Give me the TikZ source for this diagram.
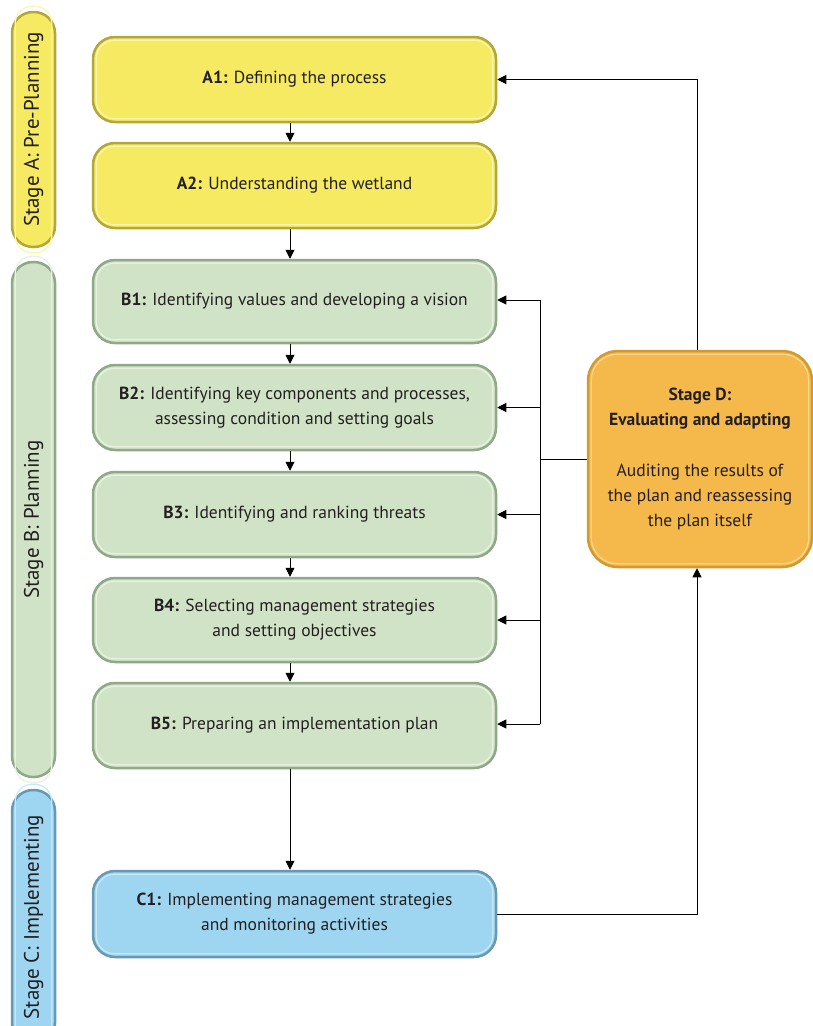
\documentclass[tikz,border=0pt]{standalone}
\usepackage{fontspec}
\setmainfont{PT Sans}
\usetikzlibrary{arrows.meta,calc}
\definecolor{yfill}{HTML}{F5EA62}
\definecolor{ydraw}{HTML}{B3A73C}
\definecolor{yhi}{HTML}{FBF5AE}
\definecolor{gfill}{HTML}{D1E3C7}
\definecolor{gdraw}{HTML}{8FA888}
\definecolor{ghi}{HTML}{E8F1E2}
\definecolor{bfill}{HTML}{9ED5F0}
\definecolor{bdraw}{HTML}{6699B3}
\definecolor{bhi}{HTML}{C9E9F8}
\definecolor{ofill}{HTML}{F5B84A}
\definecolor{odraw}{HTML}{D09A30}
\definecolor{ohi}{HTML}{FAD690}
\definecolor{txt}{HTML}{231F20}
\tikzset{
  box/.style={rounded corners=22pt, line width=2.5pt, minimum width=403pt, minimum height=85pt,
    align=center, font=\fontsize{17.5}{25}\selectfont, text=txt, inner sep=0pt},
  ybox/.style={box, fill=yfill, draw=ydraw},
  gbox/.style={box, fill=gfill, draw=gdraw},
  bbox/.style={box, fill=bfill, draw=bdraw},
  obox/.style={box, fill=ofill, draw=odraw, rounded corners=30pt, minimum width=224pt, minimum height=216pt},
  pill/.style={rounded corners=21pt, line width=2.5pt, inner sep=0pt, rotate=90,
    font=\fontsize{21}{24}\selectfont, text=txt},
  arr/.style={-{Triangle[length=9pt,width=9pt]}, line width=0.9pt, draw=black},
  ln/.style={line width=0.9pt, draw=black},
}
\newcommand\hilite[3][18pt]{\draw[#3, line width=1.3pt, rounded corners=#1] ($(#2.north west)+(4.5,4.5)$) rectangle ($(#2.south east)+(-4.5,-4.5)$);}
\begin{document}
\begin{tikzpicture}[x=1pt,y=-1pt]
\useasboundingbox (0,0) rectangle (813,1026);
% stage pills
\node[pill, fill=yfill, draw=ydraw, minimum width=235pt, minimum height=43pt] (SA) at (33.5,129.5) {Stage A: Pre-Planning};
\node[pill, fill=gfill, draw=gdraw, minimum width=515pt, minimum height=43pt] (SB) at (33.5,519.5) {Stage B: Planning};
\node[pill, fill=bfill, draw=bdraw, minimum width=254pt, minimum height=43pt] (SC) at (33.5,917) {Stage C: Implementing};
\hilite[17pt]{SA}{yhi}
\hilite[17pt]{SB}{ghi}
\hilite[17pt]{SC}{bhi}
% boxes
\node[ybox] (A1) at (294.5,79.5) {\textbf{A1:} Defining the process};
\node[ybox] (A2) at (294.5,185.5) {\textbf{A2:} Understanding the wetland};
\node[gbox, minimum height=83pt] (B1) at (294.5,301.5) {\textbf{B1:} Identifying values and developing a vision};
\node[gbox] (B2) at (294.5,407.5) {\textbf{B2:} Identifying key components and processes,\\assessing condition and setting goals};
\node[gbox] (B3) at (294.5,514.5) {\textbf{B3:} Identifying and ranking threats};
\node[gbox, minimum height=84pt] (B4) at (294.5,620) {\textbf{B4:} Selecting management strategies\\and setting objectives};
\node[gbox] (B5) at (294.5,725.5) {\textbf{B5:} Preparing an implementation plan};
\node[bbox, minimum height=86pt] (C1) at (294.5,914) {\textbf{C1:} Implementing management strategies\\and monitoring activities};
\node[obox] (D) at (700,459) {\textbf{Stage D:}\\\textbf{Evaluating and adapting}\\[26pt]Auditing the results of\\the plan and reassessing\\the plan itself};
\foreach \n in {A1,A2}{\hilite{\n}{yhi}}
\foreach \n in {B1,B2,B3,B4,B5}{\hilite{\n}{ghi}}
\hilite{C1}{bhi}
\hilite[26pt]{D}{ohi}
% vertical flow
\draw[arr] (A1.south -| 290,0) -- (A2.north -| 290,0);
\draw[arr] (A2.south -| 290,0) -- (B1.north -| 290,0);
\draw[arr] (B1.south -| 290,0) -- (B2.north -| 290,0);
\draw[arr] (B2.south -| 290,0) -- (B3.north -| 290,0);
\draw[arr] (B3.south -| 290,0) -- (B4.north -| 290,0);
\draw[arr] (B4.south -| 290,0) -- (B5.north -| 290,0);
\draw[arr] (B5.south -| 290,0) -- (C1.north -| 290,0);
% feedback bus
\coordinate (bt) at (540,300);
\coordinate (bb) at (540,724);
\draw[ln] (bt) -- (bb);
\draw[ln] (D.west) -- (D.west -| bt);
\draw[arr] (bt) -- (bt -| B1.east);
\draw[arr] (B2.east -| bt) -- (B2.east);
\draw[arr] (B3.east -| bt) -- (B3.east);
\draw[arr] (B4.east -| bt) -- (B4.east);
\draw[arr] (bb) -- (bb -| B5.east);
% loops
\coordinate (dx) at (697,0);
\draw[arr] (D.north -| dx) |- (A1.east);
\draw[arr] (C1.east) -| (D.south -| dx);
\end{tikzpicture}
\end{document}
